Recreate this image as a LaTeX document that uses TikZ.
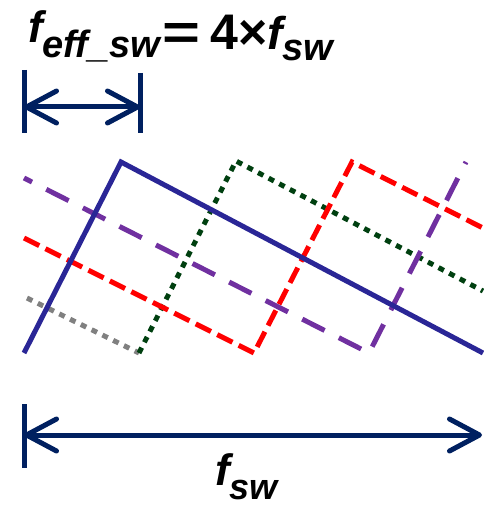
\documentclass[tikz,border=0pt]{standalone}
\usepackage{fontspec}
\usepackage{graphicx}
\setmainfont{Liberation Sans}
\usetikzlibrary{arrows.meta}
\definecolor{wblue}{RGB}{42,38,150}
\definecolor{wred}{RGB}{255,0,0}
\definecolor{wpurple}{RGB}{112,48,160}
\definecolor{wgreen}{RGB}{0,64,16}
\definecolor{wgray}{RGB}{128,128,128}
\definecolor{navy}{RGB}{0,32,96}
\tikzset{
  wave/.style={line width=5pt, line join=miter},
  solidwave/.style={wave, wblue},
  reddash/.style={wave, wred, dash pattern=on 17pt off 7pt},
  purpledash/.style={wave, wpurple, dash pattern=on 25pt off 16pt, dash phase=16pt},
  greendot/.style={wave, wgreen, dash pattern=on 6pt off 6pt},
  graydot/.style={wave, wgray, dash pattern=on 6pt off 6pt},
  bar/.style={navy, line width=5pt},
  dimarrow/.style={navy, line width=5pt, {Straight Barb[length=30pt,width=32pt,round]}-{Straight Barb[length=30pt,width=32pt,round]}},
  lbl/.style={inner sep=0pt, anchor=base west}
}
\newcommand{\fsz}[1]{\fontsize{#1}{#1}\selectfont\bfseries}
\begin{document}
\begin{tikzpicture}[x=1pt,y=-1pt]
\useasboundingbox (0,0) rectangle (483,508);
% waveform corners
\coordinate (B0) at (24,353); \coordinate (B1) at (121,162); \coordinate (B2) at (483,353);
\coordinate (G0) at (139,353); \coordinate (G1) at (236,161); \coordinate (G2) at (483,291);
\coordinate (Y0) at (27,298); \coordinate (Y1) at (139,353);
\coordinate (R0) at (24,238); \coordinate (R1) at (254,353); \coordinate (R2) at (352,162); \coordinate (R3) at (483,228);
\coordinate (P0) at (24,178); \coordinate (P1) at (369,353); \coordinate (P2) at (466,162);
\draw[graydot] (Y0) -- (Y1);
\draw[greendot] (G0) -- (G1) -- (G2);
\draw[purpledash] (P0) -- (P1) -- (P2);
\draw[reddash] (R0) -- (R1) -- (R2) -- (R3);
\draw[solidwave] (B0) -- (B1) -- (B2);
% top dimension
\coordinate (ta) at (24,70); \coordinate (tb) at (24,133);
\coordinate (tc) at (140,73); \coordinate (td) at (140,133);
\coordinate (tl) at (24,107); \coordinate (tr) at (140,107);
\draw[bar] (ta) -- (tb);
\draw[bar] (tc) -- (td);
\draw[dimarrow] (tl) -- (tr);
% bottom dimension
\coordinate (ba) at (24,404); \coordinate (bb) at (24,468);
\coordinate (bl) at (24,435); \coordinate (br) at (482,435);
\draw[bar] (ba) -- (bb);
\draw[dimarrow] (bl) -- (br);
% labels
\node[lbl] (top) at (28,43) {\fsz{44}\itshape f\raisebox{-15pt}{\fsz{38}\itshape eff\_sw}\raisebox{-7pt}{\fsz{50}\upshape\hspace{2pt}\scalebox{1.3}[1]{=}\hspace{10pt}4×\fsz{46}\itshape f\raisebox{-11pt}{\fsz{38}\itshape sw}}};
\node[lbl] (bot) at (215,485) {\fsz{44}\itshape f\raisebox{-14pt}{\fsz{36}\itshape sw}};
\end{tikzpicture}
\end{document}
